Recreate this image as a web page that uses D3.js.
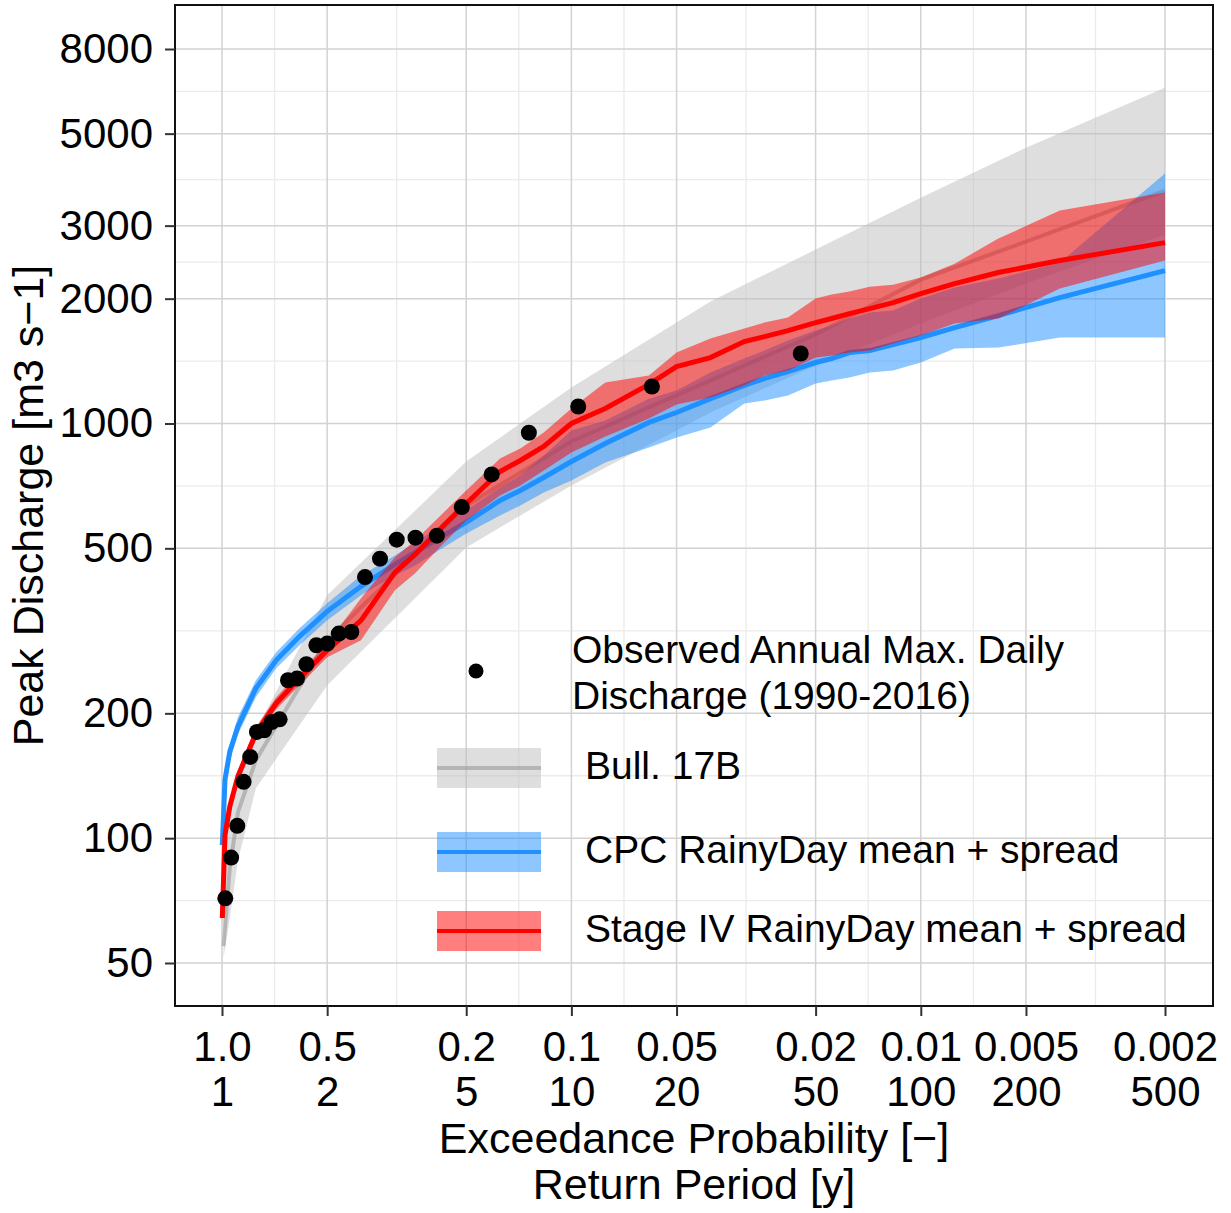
<!DOCTYPE html>
<html><head><meta charset="utf-8">
<script src="https://cdn.jsdelivr.net/npm/d3@7"></script>
<style>
body{margin:0;background:#fff;}
svg{display:block;}
text{font-family:"Liberation Sans",Arial,Helvetica,sans-serif;fill:#000;}
</style>
</head><body>
<svg id="chart" width="1231" height="1213"></svg>
<script>
// ---------------- DATA ----------------
const xBreaks = [1, 2, 5, 10, 20, 50, 100, 200, 500];
const xProbLabels = ["1.0", "0.5", "0.2", "0.1", "0.05", "0.02", "0.01", "0.005", "0.002"];
const xPeriodLabels = ["1", "2", "5", "10", "20", "50", "100", "200", "500"];
const yBreaks = [50, 100, 200, 500, 1000, 2000, 3000, 5000, 8000];

// Observed annual maximum daily discharge (return period, discharge)
const obsT = [1.022, 1.062, 1.106, 1.153, 1.204, 1.259, 1.320, 1.388, 1.462, 1.545, 1.639, 1.744, 1.863, 2.000,
  2.159, 2.345, 2.566, 2.833, 3.163, 3.579, 4.121, 4.857, 5.913, 7.556, 10.46, 17.00, 45.33];
const obsQ = [71.6, 89.8, 107.1, 136.7, 157.0, 180.4, 182.1, 190.6, 193.5, 240.3, 242.6, 262.7, 291.9, 294.6,
  311.4, 314.2, 426.3, 472.1, 524.6, 530.4, 536.3, 628.6, 753.6, 949.8, 1099, 1228, 1475];

// Bulletin 17B fit and confidence band
const bullT = [1.0101, 1.0526, 1.1111, 1.25, 2, 5, 10, 25, 50, 100, 200, 500];
const bullLo = [51.4, 64.2, 88.5, 132.0, 233.8, 502.5, 708.9, 1063, 1380, 1742, 2175, 2854];
const bullMean = [54.9, 84.7, 115.5, 154.2, 300.0, 634.5, 905.0, 1270, 1639, 2223, 2745, 3642];
const bullHi = [81.4, 118.1, 141.9, 182.1, 385.1, 809.7, 1221, 1968, 2626, 3504, 4625, 6451];

// RainyDay return periods
const rdT = [1.002, 1.02, 1.053, 1.111, 1.25, 1.429, 1.667, 2, 2.5, 3.125, 3.571, 4.167, 5, 6.25, 7.143, 8.333,
  10, 12.5, 16.67, 20, 25, 31.25, 35.71, 41.67, 50, 55.56, 62.5, 71.43, 83.33, 100, 125, 166.7, 250, 500];

// CPC RainyDay mean + spread
const cpcMean = [96.2, 138.5, 162.0, 186.0, 229.8, 268.5, 306.7, 352.4, 404.8, 457.3, 488.9, 528.4, 577.3, 652.3,
  689.6, 741.1, 809.7, 895.1, 1006, 1063, 1148, 1235, 1284, 1334, 1403, 1434, 1483, 1499, 1550, 1612, 1703, 1820, 2012, 2337];
const cpcLo = [93.6, 131.0, 153.0, 178.0, 218.7, 256.8, 291.9, 335.2, 385.1, 430.2, 454.8, 494.3, 543.2, 600.2,
  634.5, 681.9, 728.9, 805.4, 875.3, 925.3, 978.1, 1117, 1136, 1168, 1249, 1270, 1291, 1327, 1342, 1403, 1516, 1524, 1612, 1612];
const cpcHi = [103.4, 145.0, 168.0, 196.0, 240.3, 280.7, 320.6, 368.4, 430.2, 480.7, 516.7, 561.6, 617.1, 701.2,
  749.3, 837.4, 961.8, 1017, 1148, 1201, 1327, 1434, 1499, 1585, 1675, 1722, 1791, 1851, 1872, 2001, 2127, 2236, 2443, 4005];

// Stage IV RainyDay mean + spread
const st4Mean = [64.2, 101.7, 119.4, 141.1, 179.1, 211.5, 243.0, 283.8, 335.2, 437.5, 483.4, 552.3, 641.5, 766.2,
  814.3, 880.1, 1000, 1087, 1242, 1372, 1442, 1576, 1620, 1675, 1751, 1791, 1841, 1893, 1957, 2057, 2175, 2312, 2471, 2730];
const st4Lo = [61.7, 97.8, 115.5, 135.7, 172.2, 204.6, 233.8, 273.0, 300.0, 395.9, 435.1, 499.8, 583.7, 670.7,
  708.9, 770.4, 851.4, 930.5, 1028, 1111, 1155, 1235, 1305, 1342, 1442, 1458, 1483, 1499, 1559, 1629, 1742, 1791, 2115, 2471];
const st4Hi = [67.1, 105.7, 123.5, 145.8, 185.2, 218.7, 251.2, 295.1, 378.7, 475.5, 522.5, 593.6, 689.6, 823.5,
  870.5, 951.2, 1087, 1256, 1305, 1483, 1603, 1694, 1751, 1801, 2001, 2046, 2081, 2138, 2162, 2248, 2429, 2792, 3261, 3604];

const legendItems = [
  {label: "Bull. 17B", fill: "#bebebe", line: "#999999", lineOpacity: 0.6},
  {label: "CPC RainyDay mean + spread", fill: "#1E90FF", line: "#1E90FF", lineOpacity: 1},
  {label: "Stage IV RainyDay mean + spread", fill: "#FF0000", line: "#FF0000", lineOpacity: 1}
];

// ---------------- LAYOUT ----------------
const panel = {l: 175, r: 1213, t: 5, b: 1006};
const svg = d3.select("#chart");
svg.append("rect").attr("width", 1231).attr("height", 1213).attr("fill", "#fff");

const x = d3.scaleLog().domain([1, 500]).range([222, 1165]);
const y = d3.scaleLog().domain([50, 8000]).range([963, 49]);

svg.append("defs").append("clipPath").attr("id", "clip")
  .append("rect").attr("x", panel.l).attr("y", panel.t)
  .attr("width", panel.r - panel.l).attr("height", panel.b - panel.t);

// grid
const gridG = svg.append("g");
const geoMid = (a, b) => Math.sqrt(a * b);
const xMinor = d3.pairs(xBreaks).map(([a, b]) => geoMid(a, b));
const yMinor = d3.pairs(yBreaks).map(([a, b]) => geoMid(a, b));
xMinor.forEach(v => gridG.append("line").attr("x1", x(v)).attr("x2", x(v)).attr("y1", panel.t).attr("y2", panel.b)
  .attr("stroke", "#ebebeb").attr("stroke-width", 1.3));
yMinor.forEach(v => gridG.append("line").attr("y1", y(v)).attr("y2", y(v)).attr("x1", panel.l).attr("x2", panel.r)
  .attr("stroke", "#ebebeb").attr("stroke-width", 1.3));
xBreaks.forEach(v => gridG.append("line").attr("x1", x(v)).attr("x2", x(v)).attr("y1", panel.t).attr("y2", panel.b)
  .attr("stroke", "#d2d2d2").attr("stroke-width", 1.5));
yBreaks.forEach(v => gridG.append("line").attr("y1", y(v)).attr("y2", y(v)).attr("x1", panel.l).attr("x2", panel.r)
  .attr("stroke", "#d2d2d2").attr("stroke-width", 1.5));

const plotG = svg.append("g").attr("clip-path", "url(#clip)");

function series(T, lo, mean, hi) {
  return T.map((t, i) => ({t, lo: lo[i], mean: mean[i], hi: hi[i]}));
}
const area = d3.area().x(d => x(d.t)).y0(d => y(d.lo)).y1(d => y(d.hi));
const line = d3.line().x(d => x(d.t)).y(d => y(d.mean));

const bull = series(bullT, bullLo, bullMean, bullHi);
const cpc = series(rdT, cpcLo, cpcMean, cpcHi);
const st4 = series(rdT, st4Lo, st4Mean, st4Hi);

plotG.append("path").datum(bull).attr("d", area).attr("fill", "#bebebe").attr("fill-opacity", 0.5);
plotG.append("path").datum(bull).attr("d", line).attr("fill", "none").attr("stroke", "#999999")
  .attr("stroke-opacity", 0.6).attr("stroke-width", 4);
plotG.append("path").datum(cpc).attr("d", area).attr("fill", "#1E90FF").attr("fill-opacity", 0.5);
plotG.append("path").datum(cpc).attr("d", line).attr("fill", "none").attr("stroke", "#1E90FF").attr("stroke-width", 5);
plotG.append("path").datum(st4).attr("d", area).attr("fill", "#FF0000").attr("fill-opacity", 0.5);
plotG.append("path").datum(st4).attr("d", line).attr("fill", "none").attr("stroke", "#FF0000").attr("stroke-width", 5);

plotG.selectAll("circle.obs").data(obsT.map((t, i) => ({t, q: obsQ[i]}))).join("circle")
  .attr("class", "obs").attr("cx", d => x(d.t)).attr("cy", d => y(d.q)).attr("r", 8).attr("fill", "#000");

// ---------------- LEGEND ----------------
const lg = svg.append("g");
lg.append("circle").attr("cx", 476).attr("cy", 671).attr("r", 7.5).attr("fill", "#000");
const obsLabel = lg.append("text").attr("x", 572).attr("font-size", 39);
obsLabel.append("tspan").attr("x", 572).attr("y", 663).text("Observed Annual Max. Daily");
obsLabel.append("tspan").attr("x", 572).attr("y", 709).text("Discharge (1990-2016)");
const keyTop = [748, 832, 911];
legendItems.forEach((it, i) => {
  const ty = keyTop[i];
  lg.append("rect").attr("x", 437).attr("y", ty).attr("width", 104).attr("height", 40)
    .attr("fill", it.fill).attr("fill-opacity", 0.5);
  lg.append("line").attr("x1", 437).attr("x2", 541).attr("y1", ty + 20).attr("y2", ty + 20)
    .attr("stroke", it.line).attr("stroke-opacity", it.lineOpacity).attr("stroke-width", 4);
  lg.append("text").attr("x", 585).attr("y", ty + 31).attr("font-size", 39).text(it.label);
});

// panel border
svg.append("rect").attr("x", panel.l).attr("y", panel.t).attr("width", panel.r - panel.l)
  .attr("height", panel.b - panel.t).attr("fill", "none").attr("stroke", "#111").attr("stroke-width", 2);

// ---------------- AXES ----------------
const yAxis = d3.axisLeft(y).tickValues(yBreaks).tickFormat(d3.format("d")).tickSize(10).tickPadding(12);
const yg = svg.append("g").attr("transform", `translate(${panel.l},0)`).call(yAxis);
yg.select(".domain").remove();
yg.selectAll(".tick line").attr("stroke", "#333").attr("stroke-width", 2);
yg.selectAll(".tick text").attr("font-size", 42).attr("fill", "#000")
  .attr("font-family", "'Liberation Sans',Arial,Helvetica,sans-serif");

const xAxis = d3.axisBottom(x).tickValues(xBreaks).tickSize(10).tickFormat("");
const xg = svg.append("g").attr("transform", `translate(0,${panel.b})`).call(xAxis);
xg.select(".domain").remove();
xg.selectAll(".tick line").attr("stroke", "#333").attr("stroke-width", 2);
xg.selectAll(".tick text").each(function(d, i) {
  const t = d3.select(this).attr("dy", null).attr("y", null).text(null)
    .attr("font-size", 42).attr("fill", "#000").attr("font-family", "'Liberation Sans',Arial,Helvetica,sans-serif");
  t.append("tspan").attr("x", 0).attr("y", 55).text(xProbLabels[i]);
  t.append("tspan").attr("x", 0).attr("y", 100).text(xPeriodLabels[i]);
});

// axis titles
const cx = (panel.l + panel.r) / 2;
svg.append("text").attr("x", cx).attr("y", 1153).attr("text-anchor", "middle").attr("font-size", 43)
  .text("Exceedance Probability [\u2212]");
svg.append("text").attr("x", cx).attr("y", 1199).attr("text-anchor", "middle").attr("font-size", 43)
  .text("Return Period [y]");
svg.append("text").attr("transform", `translate(43,${(panel.t + panel.b) / 2}) rotate(-90)`)
  .attr("text-anchor", "middle").attr("font-size", 43).text("Peak Discharge [m3 s\u22121]");
</script>
</body></html>
